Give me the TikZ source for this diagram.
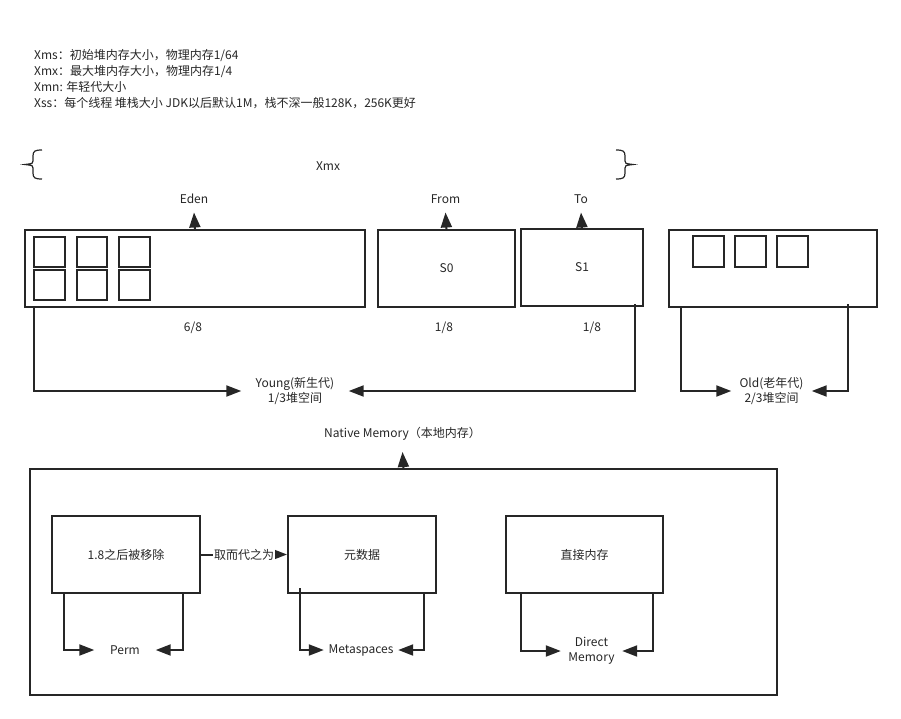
\documentclass[tikz,border=0pt]{standalone}
\usepackage{fontspec}
\setmainfont{Noto Sans CJK SC}
\usetikzlibrary{arrows.meta}

\begin{document}
\begin{tikzpicture}[
    x=1pt, y=-1pt,
    font=\fontsize{12}{15}\selectfont,
    text=black!85,
    box/.style={
        draw=black!85,
        line width=2pt,
        inner sep=0pt,
        anchor=north west,
        minimum height=77pt
    },
    cell/.style={draw=black!85, line width=2pt},
    tag/.style={inner sep=0pt, align=center},
    toplbl/.style={inner sep=0pt, text height=9pt, text depth=3pt, outer ysep=6pt},
    brace/.style={draw=black!85, line width=1.2pt},
    arrow/.style={-{Triangle[length=15pt,width=11pt]}, line width=2pt, draw=black!85}
]
\useasboundingbox (0,0) rectangle (901,719);

\node[anchor=north west, align=left, inner sep=0pt, font=\fontsize{12}{16}\selectfont] (notes) at (34,49)
    {Xms：初始堆内存大小，物理内存1/64\\Xmx：最大堆内存大小，物理内存1/4\\Xmn: 年轻代大小\\Xss：每个线程 堆栈大小 JDK以后默认1M，栈不深一般128K，256K更好};

\draw[brace] (42,150) .. controls (35,150) and (33,151) .. (33,156) -- (33,161)
    .. controls (33,163.5) .. (25,164.5) .. controls (33,165.5) .. (33,168) -- (33,173)
    .. controls (33,178) and (35,179) .. (42,179);
\draw[brace] (616,150) .. controls (623,150) and (625,151) .. (625,156) -- (625,161)
    .. controls (625,163.5) .. (633,164.5) .. controls (625,165.5) .. (625,168) -- (625,173)
    .. controls (625,178) and (623,179) .. (616,179);
\node (xmx) at (328,166) {Xmx};

\node[box, minimum width=340pt] (eden) at (24,229) {};
\node[box, minimum width=137pt] (szero) at (377,229) {S0};
\node[box, minimum width=122pt] (sone) at (520,228) {S1};
\node[box, minimum width=208pt] (old) at (668,229) {};

\foreach \i in {0,1,2} {
    \draw[cell] (34+42.5*\i,237) rectangle ++(30.5,30);
    \draw[cell] (34+42.5*\i,270) rectangle ++(30.5,30);
    \draw[cell] (692.7+42.2*\i,236) rectangle ++(31,31);
}

\node[toplbl] (edenlbl) at (194,200.5) {Eden};
\node[toplbl] (fromlbl) at (445.5,200.5) {From};
\node[toplbl] (tolbl) at (581,200.5) {To};

\draw[arrow] (eden.north) -- (edenlbl.south);
\draw[arrow] (szero.north) -- (fromlbl.south);
\draw[arrow] (sone.north) -- (tolbl.south);

\node (ratioeden) at (193,328) {6/8};
\node (ratiofrom) at (444,328) {1/8};
\node (ratioto) at (592,328) {1/8};

\node[tag, minimum width=107pt] (young) at (295,391) {Young(新生代)\\1/3堆空间};
\node[tag, minimum width=80pt] (oldgen) at (771.5,391) {Old(老年代)\\2/3堆空间};

\draw[arrow] ([xshift=10pt]eden.south west) |- (young.west);
\draw[arrow] ([xshift=-9pt,yshift=3pt]sone.south east) |- (young.east);
\draw[arrow] ([xshift=13pt]old.south west) |- (oldgen.west);
\draw[arrow] ([xshift=-30pt,yshift=4pt]old.south east) |- (oldgen.east);

\node[box, minimum width=747pt, minimum height=226pt] (mem) at (29,468) {};
\node[toplbl, outer ysep=12pt] (native) at (402.5,434) {Native Memory（本地内存）};
\draw[arrow] (mem.north) -- (native.south);

\node[box, minimum width=148pt] (pre) at (51,515) {1.8之后被移除};
\node[box, minimum width=148pt] (meta) at (287,515) {元数据};
\node[box, minimum width=157pt] (direct) at (505,515) {直接内存};

\draw[arrow] (pre) -- node[fill=white, inner sep=1pt] (replace) {取而代之为} (meta);

\node[tag, minimum width=61pt] (perm) at (125,650) {Perm};
\node[tag, minimum width=74pt] (metasp) at (361,650) {Metaspaces};
\node[tag, minimum width=61pt] (dmem) at (591.5,651) {Direct\\Memory};

\draw[arrow] ([xshift=12.5pt]pre.south west) |- (perm.west);
\draw[arrow] ([xshift=-18pt]pre.south east) |- (perm.east);
\draw[arrow] ([xshift=12.5pt,yshift=6pt]meta.south west) |- (metasp.west);
\draw[arrow] ([xshift=-13pt]meta.south east) |- (metasp.east);
\draw[arrow] ([xshift=16pt]direct.south west) |- (dmem.west);
\draw[arrow] ([xshift=-11.5pt]direct.south east) |- (dmem.east);

\end{tikzpicture}
\end{document}
